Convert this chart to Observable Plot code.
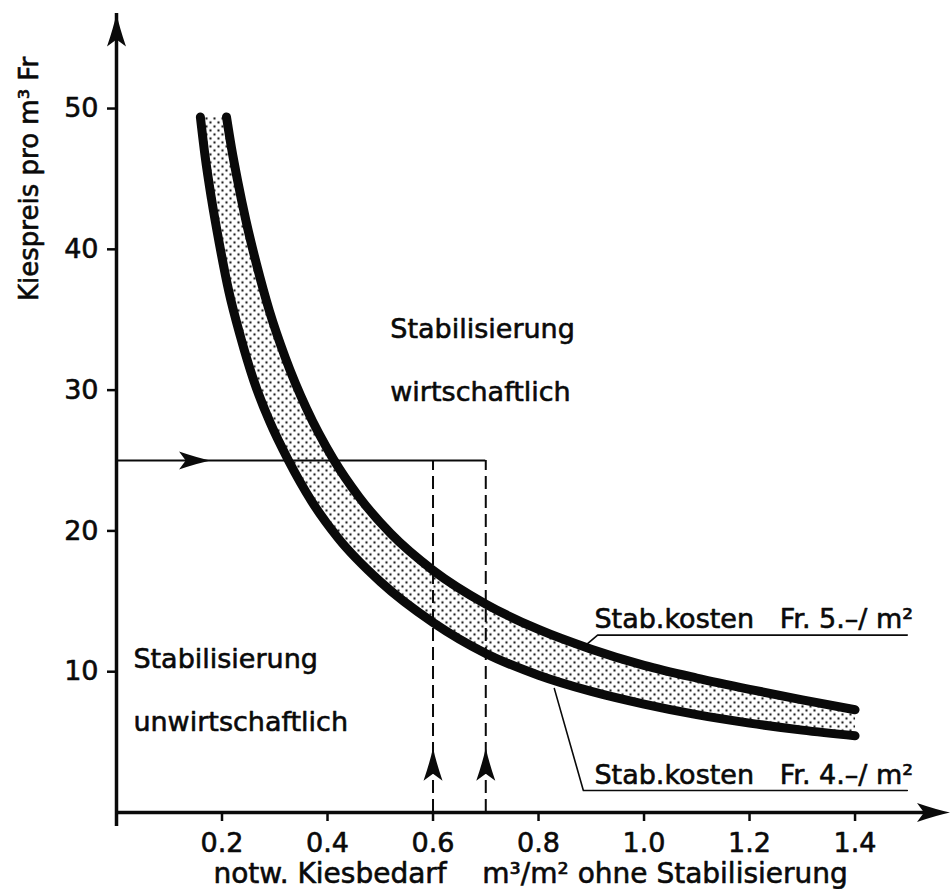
<!DOCTYPE html>
<html><head><meta charset="utf-8">
<script src="https://cdn.jsdelivr.net/npm/d3@7"></script>
<script src="https://cdn.jsdelivr.net/npm/@observablehq/plot@0.6"></script>
<style>body{margin:0;background:#fff}</style>
</head><body><div id="chart"></div>
<script>
// Stab.kosten Fr. 5.-/m2 (upper curve)
const upperX = [0.2085, 0.218, 0.23, 0.245, 0.265, 0.29, 0.32, 0.36, 0.411, 0.46, 0.52, 0.60, 0.70, 0.80, 0.90, 1.00, 1.10, 1.20, 1.30, 1.40];
const upperY = [49.4, 47.2, 44.8, 42.1, 39.0, 35.6, 32.3, 28.7, 25.1, 22.4, 19.8, 17.2, 14.8, 13.0, 11.6, 10.45, 9.55, 8.75, 8.0, 7.3];
// Stab.kosten Fr. 4.-/m2 (lower curve)
const lowerX = [0.159, 0.168, 0.18, 0.195, 0.213, 0.235, 0.26, 0.29, 0.326, 0.37, 0.42, 0.50, 0.60, 0.70, 0.80, 0.90, 1.00, 1.10, 1.20, 1.30, 1.40];
const lowerY = [49.4, 46.6, 43.6, 40.4, 37.0, 33.8, 30.7, 27.8, 25.0, 22.1, 19.5, 16.4, 13.5, 11.3, 9.75, 8.6, 7.7, 6.95, 6.35, 5.85, 5.45];

const xTicks = [0.2, 0.4, 0.6, 0.8, 1.0, 1.2, 1.4];
const xTickLabels = ["0.2", "0.4", "0.6", "0.8", "1.0", "1.2", "1.4"];
const yTicks = [10, 20, 30, 40, 50];
const yTickLabels = ["10", "20", "30", "40", "50"];

// example reading: gravel price 25 Fr/m3, gravel need 0.6 / 0.7 m3/m2
const guidePrice = 25;
const guideAmounts = [0.6, 0.7];

const xMax = 1.58, yMax = 56.75;

const upper = upperX.map((x, i) => ({x, y: upperY[i]}));
const lower = lowerX.map((x, i) => ({x, y: lowerY[i]}));
const band = upper.concat(lower.slice().reverse());

const annotations = [
  {x: 0.519, y: 34.35, text: "Stabilisierung"},
  {x: 0.519, y: 29.87, text: "wirtschaftlich"},
  {x: 0.032, y: 10.91, text: "Stabilisierung"},
  {x: 0.032, y: 6.43, text: "unwirtschaftlich"},
  {x: 0.906, y: 13.75, text: "Stab.kosten\u00a0\u00a0\u00a0Fr.\u00a05.\u2013/\u00a0m\u00b2"},
  {x: 0.906, y: 2.67, text: "Stab.kosten\u00a0\u00a0\u00a0Fr.\u00a04.\u2013/\u00a0m\u00b2"}
];
const leader5 = [{x: 0.893, y: 12.0}, {x: 0.912, y: 12.6}, {x: 1.499, y: 12.6}];
const leader4 = [{x: 0.83, y: 8.8}, {x: 0.885, y: 1.56}, {x: 1.499, y: 1.56}];

const arrows = [
  ...guideAmounts.map(x => ({x, y: 4.6, rot: 0, r: 10})),
  {x: 0.178, y: guidePrice, rot: 90, r: 9.5},
  {x: 0, y: yMax, rot: 0, r: 10},
  {x: xMax, y: 0, rot: 90, r: 10}
];

const arrowSym = {
  draw(ctx, size) {
    const k = Math.sqrt(size / Math.PI) / 10;
    ctx.moveTo(0, 0);
    ctx.quadraticCurveTo(3 * k, 14 * k, 9.5 * k, 33 * k);
    ctx.lineTo(0, 26 * k);
    ctx.lineTo(-9.5 * k, 33 * k);
    ctx.quadraticCurveTo(-3 * k, 14 * k, 0, 0);
    ctx.closePath();
  }
};

const ink = "#0a0a0a";
const heavy = {stroke: ink, strokeWidth: 0.6};
const svg = Plot.plot({
  width: 952, height: 889,
  marginLeft: 116, marginRight: 2.5, marginTop: 13, marginBottom: 77,
  x: {domain: [0, xMax]},
  y: {domain: [0, yMax]},
  r: {type: "identity"},
  style: {fontFamily: "DejaVu Sans", fontSize: "26px", background: "white", color: ink, overflow: "visible"},
  marks: [
    Plot.line(band, {x: "x", y: "y", fill: "url(#dots)", stroke: "none"}),
    Plot.line(upper, {x: "x", y: "y", stroke: ink, strokeWidth: 9, strokeLinecap: "round", curve: "monotone-x"}),
    Plot.line(lower, {x: "x", y: "y", stroke: ink, strokeWidth: 9, strokeLinecap: "round", curve: "monotone-x"}),
    Plot.ruleY([guidePrice], {x1: 0, x2: guideAmounts[1], stroke: ink, strokeWidth: 2}),
    Plot.ruleX(guideAmounts, {y1: 0, y2: guidePrice, stroke: ink, strokeWidth: 2, strokeDasharray: "13,6"}),
    Plot.line(leader5, {x: "x", y: "y", stroke: ink, strokeWidth: 1.6}),
    Plot.line(leader4, {x: "x", y: "y", stroke: ink, strokeWidth: 1.6}),
    Plot.ruleX([0], {y1: 0, y2: yMax, stroke: ink, strokeWidth: 3.5, insetTop: 14}),
    Plot.ruleY([0], {x1: 0, x2: xMax, stroke: ink, strokeWidth: 3.5, insetRight: 14}),
    Plot.dot(arrows, {x: "x", y: "y", r: "r", rotate: "rot", symbol: arrowSym, fill: ink, stroke: "none"}),
    Plot.axisX({ticks: xTicks, tickFormat: d => xTickLabels[xTicks.indexOf(d)], tickSize: 9, tickPadding: 11, strokeWidth: 2.5, fontSize: 27, textStroke: ink, textStrokeWidth: 0.6, label: null, anchor: "bottom"}),
    Plot.axisY({ticks: yTicks, tickFormat: d => yTickLabels[yTicks.indexOf(d)], tickSize: 9, tickPadding: 9, strokeWidth: 2.5, fontSize: 27, textStroke: ink, textStrokeWidth: 0.6, label: null, anchor: "left"}),
    Plot.text(annotations, {x: "x", y: "y", text: "text", textAnchor: "start", lineAnchor: "middle", fontSize: 27, fill: ink, ...heavy}),
    Plot.text(["notw. Kiesbedarf\u00a0\u00a0\u00a0\u00a0m\u00b3/m\u00b2 ohne Stabilisierung"], {x: 0.785, y: -4.4, text: d => d, textAnchor: "middle", lineAnchor: "middle", fontSize: 28, fill: ink, ...heavy}),
    Plot.text(["Kiespreis pro m\u00b3 Fr"], {x: -0.164, y: 45.0, text: d => d, rotate: -90, textAnchor: "middle", lineAnchor: "middle", fontSize: 26, fill: ink, ...heavy})
  ]
});
svg.setAttribute("shape-rendering", "geometricPrecision");
const ns = "http://www.w3.org/2000/svg";
const defs = document.createElementNS(ns, "defs");
defs.innerHTML = '<pattern id="dots" width="8" height="8" patternUnits="userSpaceOnUse"><rect width="8" height="8" fill="white"/><circle cx="2" cy="2" r="1.15" fill="#111"/><circle cx="6" cy="6" r="1.15" fill="#111"/></pattern>';
svg.insertBefore(defs, svg.firstChild);
document.getElementById("chart").appendChild(svg);
</script>
</body></html>
